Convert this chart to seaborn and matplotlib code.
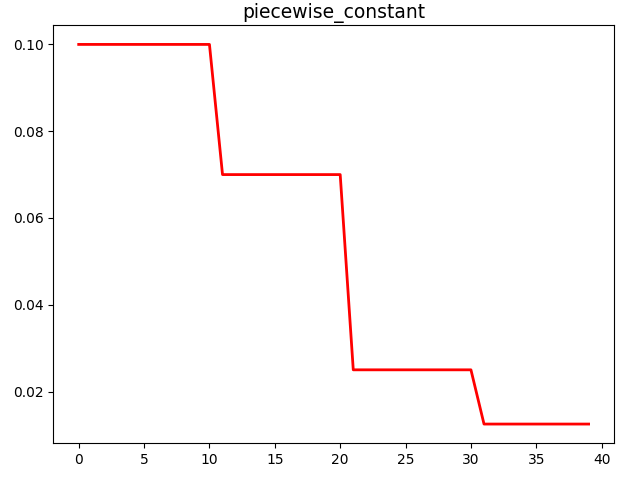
import matplotlib
matplotlib.use('Agg')
import matplotlib.pyplot as plt
import seaborn as sns
import pandas as pd

# learning rate per epoch
epochs = list(range(40))
lr = ([0.1] * 11) + ([0.07] * 10) + ([0.025] * 10) + ([0.0125] * 9)

df = pd.DataFrame({'epoch': epochs, 'lr': lr})

fig, ax = plt.subplots(figsize=(6.26, 4.8), dpi=100)
fig.subplots_adjust(left=0.085, right=0.981, top=0.947, bottom=0.077)

sns.lineplot(data=df, x='epoch', y='lr', color='red', linewidth=2, ax=ax)
ax.set_title('piecewise_constant', fontsize=13.5, pad=5)
ax.set_xlabel('')
ax.set_ylabel('')
ax.set_xticks([0, 5, 10, 15, 20, 25, 30, 35, 40])

plt.savefig('out.png', dpi=100)
